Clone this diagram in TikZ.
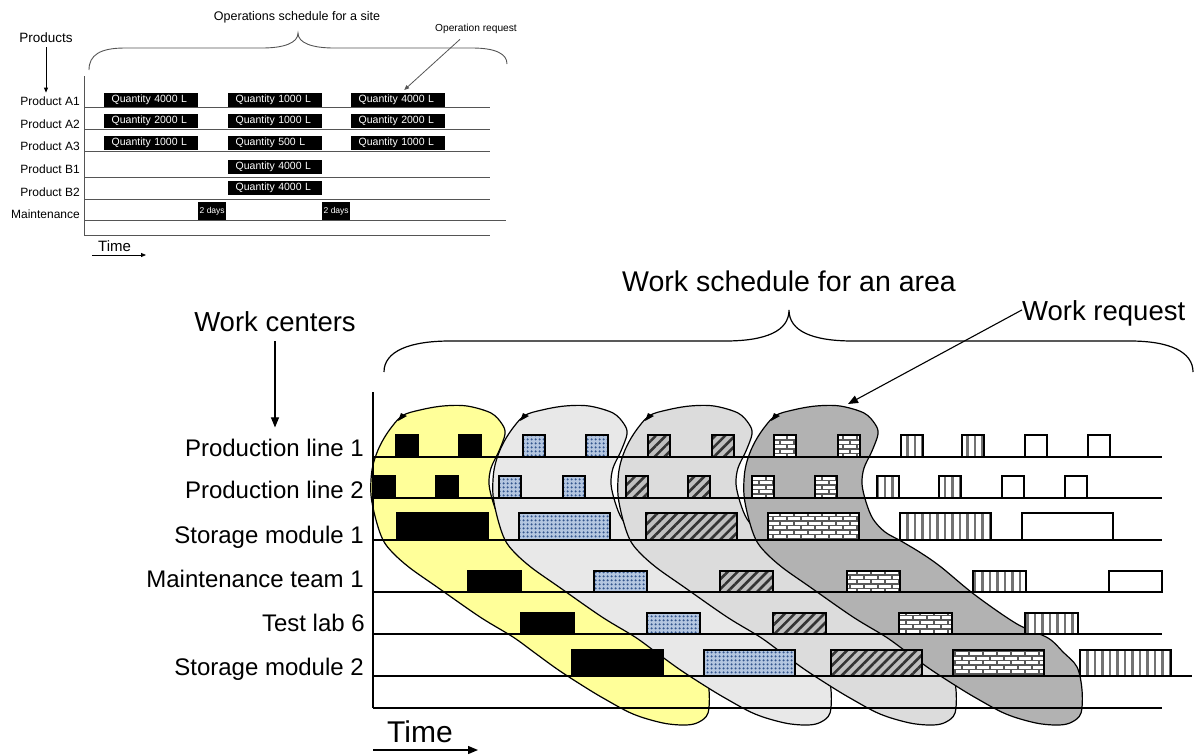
\documentclass[tikz,border=0pt]{standalone}
\usepackage{fontspec}
\setmainfont{Liberation Sans}
\usetikzlibrary{arrows.meta,patterns,patterns.meta,calc}

\definecolor{blobyellow}{HTML}{FFFF99}
\definecolor{blobgrayA}{HTML}{E8E8E8}
\definecolor{blobgrayB}{HTML}{DCDCDC}
\definecolor{blobgrayC}{HTML}{B2B2B2}
\definecolor{tileblue}{HTML}{34568E}
\definecolor{tilebluebg}{HTML}{B4C6E0}
\definecolor{rulegray}{HTML}{555555}

% mortar lines of a brick wall, coloured by "pattern color"
\pgfdeclarepatternformonly{brickwall}{\pgfqpoint{-1pt}{-1pt}}{\pgfqpoint{15pt}{10pt}}{\pgfqpoint{14pt}{9pt}}{%
  \pgfsetlinewidth{1.8pt}%
  \pgfpathmoveto{\pgfqpoint{-1pt}{0pt}}\pgfpathlineto{\pgfqpoint{15pt}{0pt}}%
  \pgfpathmoveto{\pgfqpoint{-1pt}{4.5pt}}\pgfpathlineto{\pgfqpoint{15pt}{4.5pt}}%
  \pgfpathmoveto{\pgfqpoint{3pt}{0pt}}\pgfpathlineto{\pgfqpoint{3pt}{4.5pt}}%
  \pgfpathmoveto{\pgfqpoint{10pt}{4.5pt}}\pgfpathlineto{\pgfqpoint{10pt}{9pt}}%
  \pgfusepath{stroke}}

\newcommand\fs[1]{\fontsize{#1}{#1}\selectfont}

\begin{document}
\begin{tikzpicture}[x=1pt,y=-1pt,
  txt/.style={inner sep=0pt},
  qbox/.style={fill=black, text=white, font=\fs{10.5}, anchor=north west,
    minimum height=14pt, text width=79pt, inner xsep=7.5pt, inner ysep=0pt, align=left},
  dbox/.style={fill=black, text=white, font=\fs{8.5}, anchor=north west,
    minimum width=28pt, minimum height=18pt, inner sep=0pt},
  siterule/.style={draw=rulegray, line width=0.9pt},
  rowline/.style={draw=black, line width=1.4pt},
  blob/.style={draw=black, line width=1.2pt},
  tile/.style={draw=black, line width=1.4pt},
  tblack/.style={tile, fill=black},
  tblue/.style={tile, preaction={fill=tilebluebg},
    pattern={Dots[radius=1.4pt,distance=4pt]}, pattern color=tileblue},
  tdiag/.style={tile, preaction={fill=black!25},
    pattern={Lines[angle=45,distance=7pt,line width=2.6pt]}, pattern color=black!80},
  tbrick/.style={tile, preaction={fill=white}, pattern=brickwall, pattern color=black!65},
  tstripe/.style={tile, preaction={fill=white},
    pattern={Lines[angle=90,distance=7.5pt,line width=2.2pt]}, pattern color=black!55},
  twhite/.style={tile, fill=white},
  smalltip/.style={-{Triangle[length=5pt,width=4pt]}},
  bigtip/.style={-{Triangle[length=10pt,width=8pt]}}
]
\useasboundingbox (0,0) rectangle (1198,755);

% ================= operations schedule for a site =================
\draw[siterule] (84,76) -- (84,235);
\foreach \y/\e in {107/490,129/490,151/490,177/490,199/490,220/506,235/490}
  \draw[siterule] (84,\y) -- (\e,\y);

% brace over the site schedule
\draw[rulegray, line width=0.9pt]
  (89,70) .. controls (89,55) and (100,48) .. (125,48) -- (262,48)
  .. controls (284,48) and (298,43) .. (298,33)
  .. controls (298,43) and (312,48) .. (334,48) -- (472,48)
  .. controls (496,48) and (507,54) .. (507,64);

\node[txt, font=\fs{12.5}, anchor=base] (opsched) at (297,20) {Operations schedule for a site};
\node[txt, font=\fs{10.2}, anchor=base] (opreq) at (476,31) {Operation request};
\node[txt, font=\fs{13.5}, anchor=base] (products) at (46,42) {Products};

\node[txt, font=\fs{12}, anchor=base east] (pa1) at (80,105.5) {Product A1};
\node[txt, font=\fs{12}, anchor=base east] (pa2) at (80,128) {Product A2};
\node[txt, font=\fs{12}, anchor=base east] (pa3) at (80,150) {Product A3};
\node[txt, font=\fs{12}, anchor=base east] (pb1) at (80,173) {Product B1};
\node[txt, font=\fs{12}, anchor=base east] (pb2) at (80,196) {Product B2};
\node[txt, font=\fs{12}, anchor=base east] (pmaint) at (80,218) {Maintenance};

% operation requests
\node[qbox] (qa1a) at (104,93) {Quantity 4000 L};
\node[qbox] (qa1b) at (228,93) {Quantity 1000 L};
\node[qbox] (qa1c) at (351,93) {Quantity 4000 L};
\node[qbox] (qa2a) at (104,114) {Quantity 2000 L};
\node[qbox] (qa2b) at (228,114) {Quantity 1000 L};
\node[qbox] (qa2c) at (351,114) {Quantity 2000 L};
\node[qbox] (qa3a) at (104,136) {Quantity 1000 L};
\node[qbox] (qa3b) at (228,136) {Quantity 500 L};
\node[qbox] (qa3c) at (351,136) {Quantity 1000 L};
\node[qbox] (qb1b) at (228,160) {Quantity 4000 L};
\node[qbox] (qb2b) at (228,181) {Quantity 4000 L};
\node[dbox] (dm1) at (198,202) {2 days};
\node[dbox] (dm2) at (322,202) {2 days};

\draw[smalltip, line width=0.8pt] ($(products.south)+(0,5)$) -- ($(products.south |- pa1.north)+(0,-4)$);
\draw[smalltip, line width=0.8pt, rulegray] ($(opreq.south)+(-16,6)$) -- ($(qa1c.north)+(6,-3)$);

\node[txt, font=\fs{15}, anchor=base west] (timeA) at (98,251) {Time};
\coordinate (tas) at (92,255);
\coordinate (tae) at (146,255);
\draw[smalltip, line width=0.8pt] (tas) -- (tae);

% ================= work schedule for an area =================
% work packages, each one laid over the one before it
\foreach \dx/\col in {0/blobyellow,122/blobgrayA,247/blobgrayB,373/blobgrayC}{
  \filldraw[blob, fill=\col, xshift=\dx pt]
    plot[smooth cycle, tension=0.55] coordinates {
      (402,416) (420,410) (443,406) (467,406) (491,413) (502,424) (505,434)
      (499,451) (491,468) (489,484) (493,502) (500,519) (512,532) (528,541)
      (548,553) (568,567) (602,595) (644,624) (675,638) (690,652) (704,667)
      (709,690) (708,713) (699,722) (686,725) (663,723) (633,714) (603,698)
      (580,684) (557,669) (535,653) (513,637) (480,617) (437,587) (410,568)
      (393,553) (383,540) (376,520) (371,495) (372,470) (378,450) (388,432)};
  \fill[xshift=\dx pt] (398,421) -- (401,413) -- (407,416) -- cycle;
}

% time axis and rows
\draw[rowline] (373,392) -- (373,708);
\foreach \y/\e in {457/1162,498/1162,540/1162,592/1162,634/1162,676/1192,708/1162}
  \draw[rowline] (373,\y) -- (\e,\y);

% scheduled work in each work center
\foreach \x/\y/\w/\h in {396/435/22/22,459/435/22/22,373/476/22/22,436/476/22/22,
    397/513/91/27,468/571/53/21,521/613/53/21,572/650/91/26}
  \draw[tblack] (\x,\y) rectangle ++(\w,\h);
\foreach \x/\y/\w/\h in {523/435/22/22,586/435/22/22,499/476/22/22,563/476/22/22,
    519/513/91/27,594/571/53/21,647/613/53/21,704/650/91/26}
  \draw[tblue] (\x,\y) rectangle ++(\w,\h);
\foreach \x/\y/\w/\h in {648/435/22/22,712/435/22/22,626/476/22/22,688/476/22/22,
    646/513/91/27,720/571/53/21,773/613/53/21,831/650/91/26}
  \draw[tdiag] (\x,\y) rectangle ++(\w,\h);
\foreach \x/\y/\w/\h in {774/435/22/22,838/435/22/22,752/476/22/22,815/476/22/22,
    768/513/91/27,847/571/53/21,899/613/53/21,953/650/91/26}
  \draw[tbrick] (\x,\y) rectangle ++(\w,\h);
\foreach \x/\y/\w/\h in {901/435/22/22,962/435/22/22,877/476/22/22,939/476/22/22,
    900/513/91/27,973/571/53/21,1025/613/53/21,1080/650/91/26}
  \draw[tstripe] (\x,\y) rectangle ++(\w,\h);
\foreach \x/\y/\w/\h in {1025/435/22/22,1088/435/22/22,1002/476/22/22,1065/476/22/22,
    1022/513/91/27,1109/571/53/21}
  \draw[twhite] (\x,\y) rectangle ++(\w,\h);

% brace over the area schedule
\draw[line width=1.2pt]
  (384,372) .. controls (384,351) and (410,341) .. (450,341) -- (725,341)
  .. controls (766,341) and (789,331) .. (789,310)
  .. controls (789,331) and (812,341) .. (853,341) -- (1130,341)
  .. controls (1170,341) and (1193,352) .. (1193,372);

\node[txt, font=\fs{28.5}, anchor=base] (sched) at (789,291) {Work schedule for an area};
\node[txt, font=\fs{27.5}, anchor=base west] (wreq) at (1022,320) {Work request};
\node[txt, font=\fs{27.5}, anchor=base] (wc) at (275,331) {Work centers};

\node[txt, font=\fs{24}, anchor=base east] (pl1) at (364,456) {Production line 1};
\node[txt, font=\fs{24}, anchor=base east] (pl2) at (364,498) {Production line 2};
\node[txt, font=\fs{24}, anchor=base east] (sm1) at (364,543) {Storage module 1};
\node[txt, font=\fs{24}, anchor=base east] (mt1) at (364,587) {Maintenance team 1};
\node[txt, font=\fs{24}, anchor=base east] (tl6) at (365,631) {Test lab 6};
\node[txt, font=\fs{24}, anchor=base east] (sm2) at (364,675) {Storage module 2};

\coordinate (wrtip) at (848,404);
\draw[bigtip, line width=1.1pt] ($(wreq.west)+(0,-3)$) -- (wrtip);
\draw[bigtip, line width=1.1pt] ($(wc.south)+(0,10)$) -- ($(wc.south |- pl1.north)+(0,-11)$);

\node[txt, font=\fs{30}, anchor=base west] (timeB) at (387,742) {Time};
\coordinate (tbs) at (373,750);
\coordinate (tbe) at (478,750);
\draw[bigtip, line width=1.3pt] (tbs) -- (tbe);
\end{tikzpicture}
\end{document}
